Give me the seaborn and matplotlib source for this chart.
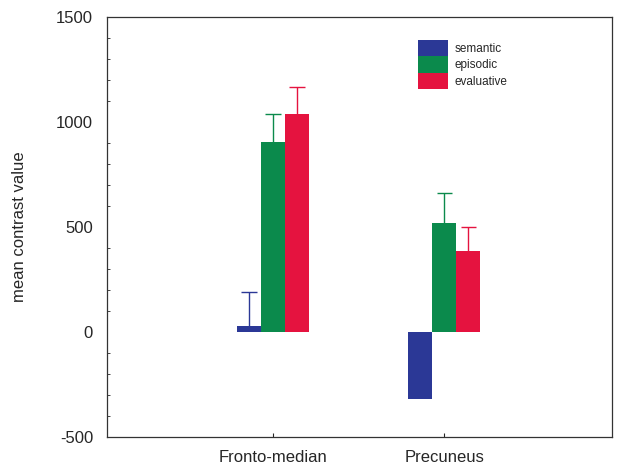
import matplotlib
matplotlib.use('Agg')
import matplotlib.pyplot as plt
import numpy as np
import pandas as pd
import seaborn as sns
from matplotlib.ticker import MultipleLocator

regions = ['Fronto-median', 'Precuneus']
conditions = ['semantic', 'episodic', 'evaluative']
semantic = [28, -320]
episodic = [905, 519]
evaluative = [1038, 386]
semantic_err = [162, 0]
episodic_err = [133, 143]
evaluative_err = [129, 114]

colors = ['#2b3896', '#0b8a4c', '#e5133f']

sns.set_style('white')
plt.rcParams['font.family'] = ['Liberation Sans', 'DejaVu Sans']
plt.rcParams['axes.unicode_minus'] = False

df = pd.DataFrame({
    'region': regions * 3,
    'condition': np.repeat(conditions, len(regions)),
    'value': semantic + episodic + evaluative,
    'err': semantic_err + episodic_err + evaluative_err,
})

fig = plt.figure(figsize=(6.22, 4.70), dpi=100)
ax = fig.add_axes([0.172, 0.070, 0.812, 0.894])
sns.barplot(data=df, x='region', y='value', hue='condition', order=regions,
            hue_order=conditions, palette=colors, width=0.42, saturation=1,
            errorbar=None, linewidth=0, ax=ax, legend=False)

# upper error bars only (no cap at the bar top), coloured like their bars
bw = 0.14
cap = 0.045
for j, cond in enumerate(conditions):
    sub = df[df['condition'] == cond]
    xs = np.arange(len(regions)) + (j - 1) * bw
    tops = sub['value'].clip(lower=0).values
    errs = sub['err'].values
    for x, t, e in zip(xs, tops, errs):
        if e > 0:
            ax.vlines(x, t, t + e, color=colors[j], lw=1, zorder=1)
            ax.hlines(t + e, x - cap, x + cap, color=colors[j], lw=1)

ax.set_xlim(-0.97, 1.98)
ax.set_ylim(-500, 1500)
ax.yaxis.set_major_locator(MultipleLocator(500))
ax.yaxis.set_minor_locator(MultipleLocator(100))
ax.tick_params(axis='y', which='major', direction='in', length=5, labelsize=12, pad=10)
ax.tick_params(axis='y', which='minor', direction='in', length=2.5, left=True)
ax.tick_params(axis='x', direction='in', length=3, bottom=True, labelsize=12, pad=9)
ax.set_xlabel('')
ax.set_ylabel('mean contrast value', fontsize=12)
ax.yaxis.set_label_coords(-0.158, 0.5)
for s in ax.spines.values():
    s.set_color('#333333')
    s.set_linewidth(0.9)

handles = [plt.Rectangle((0, 0), 1, 1, facecolor=c, edgecolor='none') for c in colors]
ax.legend(handles, conditions, loc='upper left', bbox_to_anchor=(0.595, 0.97),
          frameon=False, labelspacing=0, handleheight=1.75, handlelength=2.5,
          handletextpad=0.6, fontsize=8.5)

plt.savefig('out.png', dpi=100)
